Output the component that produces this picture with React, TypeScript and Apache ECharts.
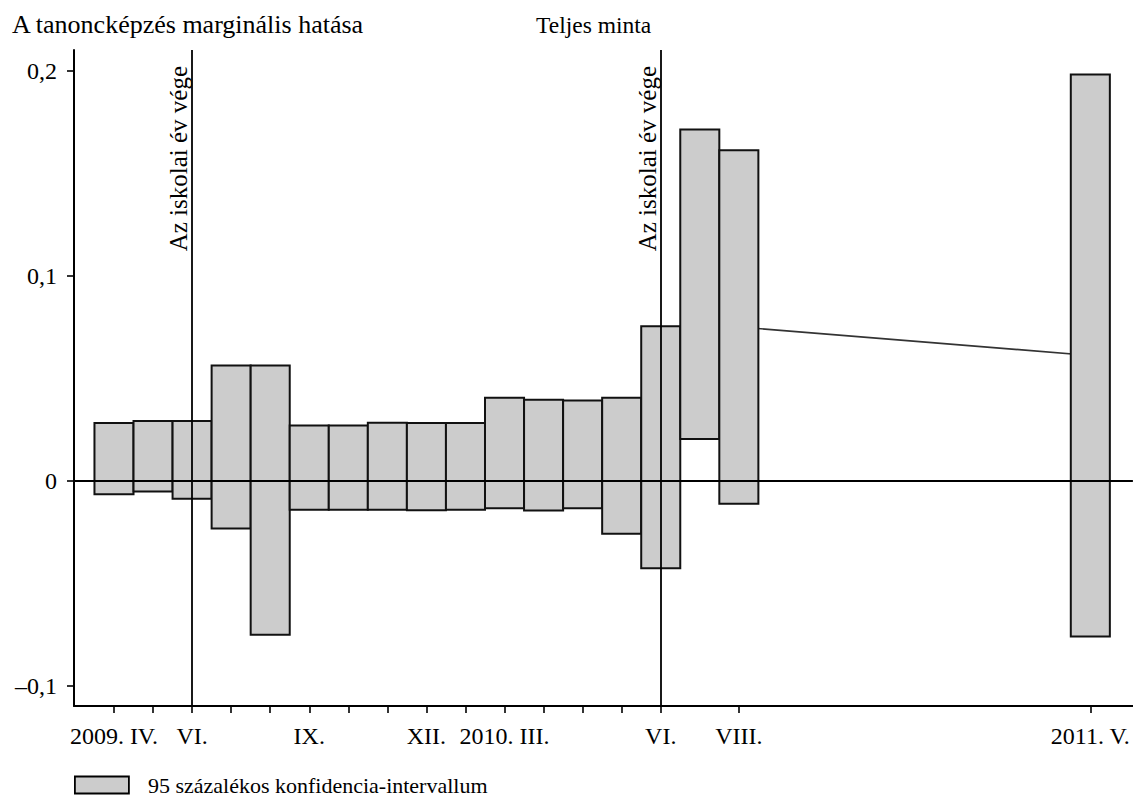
import React, { useEffect, useRef } from "react";
import * as echarts from "echarts";

// Month index: 0 = 2009. IV., 1 = 2009. V., ... 16 = 2010. VIII., 25 = 2011. V.
const monthIndex = [0, 1, 2, 3, 4, 5, 6, 7, 8, 9, 10, 11, 12, 13, 14, 15, 16, 25];
const lowerBound = [
  -0.0067, -0.0054, -0.0089, -0.0234, -0.0752, -0.0143, -0.0143, -0.0143, -0.0145,
  -0.0143, -0.0135, -0.0146, -0.0135, -0.026, -0.0428, 0.0202, -0.0114, -0.0761,
];
const upperBound = [
  0.028, 0.029, 0.029, 0.0561, 0.0561, 0.0268, 0.0268, 0.0282, 0.028,
  0.028, 0.0404, 0.0394, 0.039, 0.0404, 0.0752, 0.1712, 0.1611, 0.1981,
];
const pointEstimate = [
  0.0107, 0.0118, 0.0101, 0.0164, -0.0096, 0.0063, 0.0063, 0.007, 0.0068,
  0.0069, 0.0135, 0.0124, 0.0128, 0.0072, 0.0162, 0.0957, 0.0749, 0.061,
];

const xTickPositions = [0, 1, 2, 3, 4, 5, 6, 7, 8, 9, 10, 11, 12, 13, 14, 16, 25];
const xLabelPositions = [0, 2, 5, 8, 11, 14, 16, 25];
const xLabels = ["2009. IV.", "VI.", "IX.", "XII.", "2010. III.", "VI.", "VIII.", "2011. V."];
const yTicks = [-0.1, 0, 0.1, 0.2];
const schoolYearEnds = [2, 14];

const TITLE = "A tanoncképzés marginális hatása";
const SUBTITLE = "Teljes minta";
const VLINE_LABEL = "Az iskolai év vége";
const LEGEND_NAME = "95 százalékos konfidencia-intervallum";

const FONT = "Liberation Serif";

export default function App() {
  const ref = useRef<HTMLDivElement>(null);

  useEffect(() => {
    if (!ref.current) return;
    const chart = echarts.init(ref.current, null, { renderer: "svg" });

    const barData = monthIndex.map((m, i) => [m, lowerBound[i], upperBound[i]]);
    const lineData = monthIndex.map((m, i) => [m, pointEstimate[i]]);

    const fmtY = (v: number) => {
      if (Math.abs(v) < 1e-9) return "0";
      const s = Math.abs(v).toFixed(1).replace(".", ",");
      return v < 0 ? "\u2013" + s : s;
    };

    chart.setOption({
      animation: false,
      title: [
        {
          text: TITLE,
          left: 12,
          top: 11,
          padding: 0,
          textStyle: { fontFamily: FONT, fontSize: 26, fontWeight: "normal", color: "#000" },
        },
        {
          text: SUBTITLE,
          left: 536,
          top: 13,
          padding: 0,
          textStyle: { fontFamily: FONT, fontSize: 23.5, fontWeight: "normal", color: "#000" },
        },
      ],
      legend: {
        show: true,
        left: 74,
        top: 774,
        padding: 0,
        itemWidth: 54,
        itemHeight: 17,
        icon: "rect",
        data: [LEGEND_NAME],
        itemStyle: { color: "#cccccc", borderColor: "#000", borderWidth: 1.8 },
        textStyle: { fontFamily: FONT, fontSize: 22, color: "#000", padding: [0, 0, 0, 14] },
      },
      grid: { left: 74, right: 0, top: 50, bottom: 91, containLabel: false },
      xAxis: {
        type: "value",
        min: -1.024,
        max: 26.09,
        splitLine: { show: false },
        axisLine: { show: true, onZero: false, lineStyle: { color: "#000", width: 2 } },
        axisTick: {
          show: true,
          customValues: xTickPositions,
          length: 7,
          lineStyle: { color: "#000", width: 1.6 },
        },
        axisLabel: {
          show: true,
          customValues: xLabelPositions,
          margin: 18,
          fontFamily: FONT,
          fontSize: 24,
          color: "#000",
          formatter: (v: number) => {
            const i = xLabelPositions.indexOf(Math.round(v));
            if (i < 0) return "";
            if (xLabels[i] === "2010. III.") return "{s|" + xLabels[i] + "}";
            return xLabels[i];
          },
          rich: {
            s: { fontFamily: FONT, fontSize: 24, color: "#000", padding: [0, 78, 0, 0] },
          },
        },
      },
      yAxis: {
        type: "value",
        min: -0.11,
        max: 0.21,
        splitLine: { show: false },
        axisLine: { show: true, onZero: false, lineStyle: { color: "#000", width: 2 } },
        axisTick: {
          show: true,
          customValues: yTicks,
          length: 7,
          lineStyle: { color: "#000", width: 1.6 },
        },
        axisLabel: {
          show: true,
          customValues: yTicks,
          margin: 17,
          fontFamily: FONT,
          fontSize: 24,
          color: "#000",
          formatter: (v: number) => fmtY(v),
        },
      },
      series: [
        {
          name: "pont",
          type: "line",
          data: lineData,
          showSymbol: false,
          symbol: "none",
          z: 1,
          lineStyle: { color: "#333", width: 1.6 },
          markLine: {
            silent: true,
            symbol: "none",
            label: { show: false },
            lineStyle: { color: "#000", width: 1.8, type: "solid" },
            data: [{ yAxis: 0 }, ...schoolYearEnds.map((x) => ({ xAxis: x }))],
          },
        },
        {
          name: LEGEND_NAME,
          type: "custom",
          z: 3,
          data: barData,
          encode: { x: 0, y: [1, 2] },
          itemStyle: { color: "#cccccc", borderColor: "#000", borderWidth: 2 },
          renderItem: (params: any, api: any) => {
            const x = api.value(0);
            const lo = api.value(1);
            const hi = api.value(2);
            const p1 = api.coord([x - 0.5, hi]);
            const p2 = api.coord([x + 0.5, lo]);
            return {
              type: "rect",
              shape: { x: p1[0], y: p1[1], width: p2[0] - p1[0], height: p2[1] - p1[1] },
              style: { fill: "#cccccc", stroke: "#111", lineWidth: 2 },
            };
          },
        },
      ],
    });

    const graphics = schoolYearEnds.map((m) => {
      const px = chart.convertToPixel({ xAxisIndex: 0, yAxisIndex: 0 }, [m, 0]) as number[];
      return {
        type: "text",
        x: px[0] - 1,
        y: 66,
        rotation: Math.PI / 2,
        silent: true,
        style: {
          text: VLINE_LABEL,
          fontFamily: FONT,
          fontSize: 25,
          fill: "#000",
          align: "right",
          verticalAlign: "bottom",
        },
      };
    });
    chart.setOption({ graphic: graphics });

    return () => chart.dispose();
  }, []);

  return (
    <div
      ref={ref}
      style={{ position: "absolute", left: 0, top: 0, width: 1133, height: 797, background: "#fff" }}
    />
  );
}
